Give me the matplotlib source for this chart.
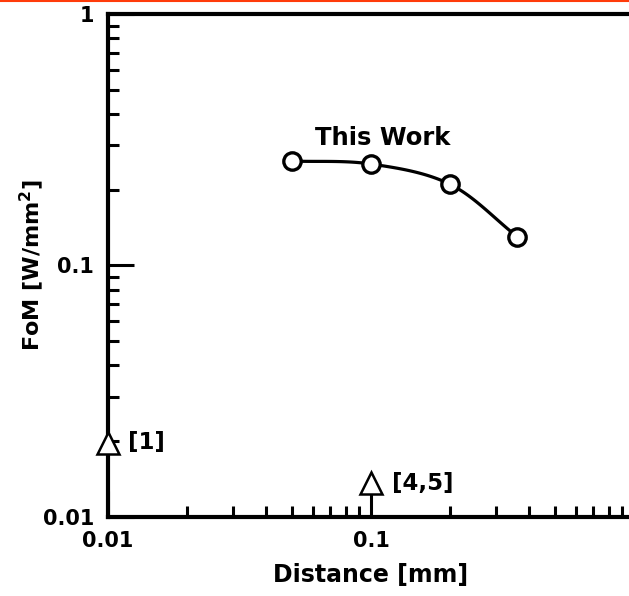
import numpy as np
import matplotlib
matplotlib.use("Agg")
import matplotlib.pyplot as plt
from matplotlib.lines import Line2D
from matplotlib.ticker import LogLocator, NullFormatter, FixedLocator, FixedFormatter

plt.rcParams['font.family'] = ['DejaVu Sans']
plt.rcParams['font.weight'] = 'bold'
plt.rcParams['mathtext.default'] = 'bf'

# This work: figure of merit versus distance
work_distance = [0.05, 0.1, 0.2, 0.36]
work_fom = [0.26, 0.253, 0.21, 0.13]

# Reference points
ref_labels = ['[1]', '[4,5]']
ref_distance = [0.01, 0.1]
ref_fom = [0.0197, 0.0136]

x_ticks = [0.01, 0.1, 1]
x_tick_labels = ['0.01', '0.1', '1']
y_ticks = [0.01, 0.1, 1]
y_tick_labels = ['0.01', '0.1', '1']


def smooth_curve(xs, ys, n=40):
    """Catmull-Rom curve through the points, computed in log-log space."""
    lx = np.log10(xs)
    ly = np.log10(ys)
    px = np.concatenate([[2 * lx[0] - lx[1]], lx, [2 * lx[-1] - lx[-2]]])
    py = np.concatenate([[2 * ly[0] - ly[1]], ly, [2 * ly[-1] - ly[-2]]])
    out_x, out_y = [], []
    t = np.linspace(0, 1, n)
    for i in range(1, len(px) - 2):
        for p, o in ((px, out_x), (py, out_y)):
            p0, p1, p2, p3 = p[i - 1], p[i], p[i + 1], p[i + 2]
            o.extend(0.5 * ((2 * p1) + (-p0 + p2) * t
                            + (2 * p0 - 5 * p1 + 4 * p2 - p3) * t ** 2
                            + (-p0 + 3 * p1 - 3 * p2 + p3) * t ** 3))
    return 10 ** np.array(out_x), 10 ** np.array(out_y)


fig = plt.figure(figsize=(6.29, 5.96), dpi=100)
ax = fig.add_axes([108 / 629, (596 - 516.7) / 596, 526 / 629, 502.7 / 596])
ax.set_xscale('log')
ax.set_yscale('log')
ax.set_xlim(0.01, 1)
ax.set_ylim(0.01, 1)

for side in ('left', 'bottom', 'top', 'right'):
    ax.spines[side].set_linewidth(3.0)

ax.xaxis.set_major_locator(FixedLocator(x_ticks))
ax.xaxis.set_major_formatter(FixedFormatter(x_tick_labels))
ax.yaxis.set_major_locator(FixedLocator(y_ticks))
ax.yaxis.set_major_formatter(FixedFormatter(y_tick_labels))
ax.xaxis.set_minor_locator(LogLocator(base=10, subs=np.arange(2, 10), numticks=20))
ax.yaxis.set_minor_locator(LogLocator(base=10, subs=np.arange(2, 10), numticks=20))
ax.xaxis.set_minor_formatter(NullFormatter())
ax.yaxis.set_minor_formatter(NullFormatter())

ax.tick_params(which='major', direction='in', length=19, width=2.2,
               labelsize=15, top=False, right=False)
ax.tick_params(which='minor', direction='in', length=8, width=2.2,
               top=False, right=False)
ax.tick_params(axis='x', which='major', pad=10)
ax.tick_params(axis='y', which='major', pad=10)
for lab in ax.get_xticklabels() + ax.get_yticklabels():
    lab.set_fontweight('bold')

cx, cy = smooth_curve(work_distance, work_fom)
ax.plot(cx, cy, color='black', lw=2.3, zorder=3, solid_capstyle='round')
ax.plot(work_distance, work_fom, ls='none', marker='o', ms=12.5,
        mfc='white', mec='black', mew=2.4, zorder=4)
ax.text(0.111, 0.301, 'This Work', ha='center', va='baseline',
        fontsize=17.5, fontweight='bold')

ax.plot(ref_distance, ref_fom, ls='none', marker='^', ms=16,
        mfc='white', mec='black', mew=1.8, zorder=5, clip_on=False)
ax.annotate(ref_labels[0], (ref_distance[0], ref_fom[0]), xytext=(20, 0),
            textcoords='offset pixels', ha='left', va='center',
            fontsize=16.5, fontweight='bold')
ax.annotate(ref_labels[1], (ref_distance[1], ref_fom[1]), xytext=(21, 0),
            textcoords='offset pixels', ha='left', va='center',
            fontsize=16.5, fontweight='bold')

ax.set_xlabel('Distance [mm]', fontsize=17, fontweight='bold', labelpad=9)
ax.set_ylabel('FoM [W/mm$^{2}$]', fontsize=16, fontweight='bold', labelpad=-2)

# thin accent rule along the top edge of the figure
fig.add_artist(Line2D([0, 1], [0.999, 0.999], color='#ff3b0a', lw=1.5,
                      transform=fig.transFigure))

fig.savefig('out.png', dpi=100)
